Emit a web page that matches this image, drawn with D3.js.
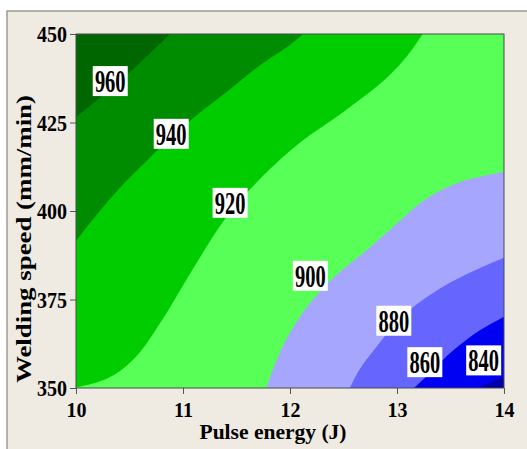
<!DOCTYPE html>
<html lang="en">
<head>
    <meta charset="UTF-8">
    <title>Contour plot: pulse energy vs welding speed</title>
    <script src="https://d3js.org/d3.v7.min.js"></script>
    <style>
        body { margin: 0; background: #ffffff; }
        text { font-family: "Liberation Serif", "Times New Roman", serif; font-weight: bold; }
    </style>
</head>
<body>
    <svg width="527" height="449" id="chart"></svg>
    <script>
        const width = 527;
        const height = 449;
        const svg = d3.select("#chart");

        // contour levels and band colours (lowest band first)
        const levels = [840, 860, 880, 900, 920, 940, 960];
        const bandColors = ["#0000a8", "#0000f2", "#6666ff", "#a6a6ff", "#57ff57", "#00cc00", "#008c00", "#006600"];

        // contour lines, [pulse energy J, welding speed mm/min]
        const c840 = [[13.74, 350], [13.87, 351.5], [14, 353.3]];
        const c860 = [[13.16, 350], [13.31, 354.3], [13.43, 358.0], [13.59, 362.2], [13.74, 365.6], [14, 370.1]];
        const c880 = [[12.56, 350], [12.65, 355.2], [12.81, 361.7], [12.96, 367.3], [13.12, 372.1], [13.43, 378.6], [13.74, 383.4], [14, 386.8]];
        const c900 = [[11.78, 350], [11.85, 356], [11.97, 364], [12.15, 372.5], [12.4, 381], [12.7, 388.5],
                      [13.0, 396.5], [13.25, 403], [13.55, 407.8], [14, 411.1]];
        const c920 = [[10, 350.1], [10.3, 352.8], [10.55, 358.5], [10.8, 369], [11.1, 384], [11.4, 398], [11.75, 410],
                      [12.1, 419.5], [12.5, 428], [12.9, 437.5], [13.1, 444], [13.24, 450]];
        const c940 = [[10, 391.5], [10.19, 398.8], [10.41, 406.5], [10.66, 414.1], [10.88, 420.6], [11.13, 427.1],
                      [11.41, 433.7], [11.72, 441.2], [12.0, 446.9], [12.12, 450]];
        const c960 = [[10, 426.5], [10.44, 437.5], [10.88, 450]];
        const contourLines = [c840, c860, c880, c900, c920, c940, c960];

        // where the level labels sit, in data units
        const labelPos = [[13.81, 357.8], [13.26, 357.3], [12.97, 369.0], [12.19, 381.7], [11.44, 402.3], [10.89, 421.8], [10.32, 436.7]];

        const xTicks = [10, 11, 12, 13, 14];
        const yTicks = [350, 375, 400, 425, 450];

        const x = d3.scaleLinear().domain([10, 14]).range([76, 504]);
        const y = d3.scaleLinear().domain([350, 450]).range([388, 34]);

        // outer frame of the figure
        svg.append("rect")
            .attr("x", 7).attr("y", 11)
            .attr("width", 540).attr("height", 460)
            .attr("fill", "#efebe3")
            .attr("stroke", "#9c9a96")
            .attr("stroke-width", 1.5);

        svg.append("defs").append("clipPath")
            .attr("id", "plot-clip")
            .append("rect")
            .attr("x", x(10)).attr("y", y(450))
            .attr("width", x(14) - x(10)).attr("height", y(350) - y(450));

        const plot = svg.append("g").attr("clip-path", "url(#plot-clip)");

        plot.append("rect")
            .attr("x", x(10)).attr("y", y(450))
            .attr("width", x(14) - x(10)).attr("height", y(350) - y(450))
            .attr("fill", bandColors[0]);

        // position of a boundary point along the plot edge, counter-clockwise from (10,350)
        function edgePos(p) {
            if (Math.abs(p[1] - 350) < 1e-6) return (p[0] - 10) / 4;
            if (Math.abs(p[0] - 14) < 1e-6) return 1 + (p[1] - 350) / 100;
            if (Math.abs(p[1] - 450) < 1e-6) return 2 + (14 - p[0]) / 4;
            return 3 + (450 - p[1]) / 100;
        }
        const corners = [[14, 350], [14, 450], [10, 450], [10, 350]];

        const line = d3.line()
            .x(d => x(d[0]))
            .y(d => y(d[1]))
            .curve(d3.curveCatmullRom.alpha(0.5));

        // region above each level = contour + plot corners on the upper-left side
        function regionPath(pts) {
            const s0 = edgePos(pts[pts.length - 1]);
            let s1 = edgePos(pts[0]);
            if (s1 < s0) s1 += 4;
            let d = line(pts);
            for (let k = 1; k <= 8; k++) {
                if (k > s0 && k < s1) {
                    const c = corners[(k - 1) % 4];
                    d += "L" + x(c[0]) + "," + y(c[1]);
                }
            }
            return d + "Z";
        }

        plot.selectAll("path.band")
            .data(contourLines)
            .enter().append("path")
            .attr("class", "band")
            .attr("d", d => regionPath(d))
            .attr("fill", (_, i) => bandColors[i + 1]);

        // plot border
        svg.append("rect")
            .attr("x", x(10)).attr("y", y(450))
            .attr("width", x(14) - x(10)).attr("height", y(350) - y(450))
            .attr("fill", "none")
            .attr("stroke", "#4a4a4a")
            .attr("stroke-width", 1);

        // level labels
        const labels = svg.selectAll("g.lab")
            .data(levels)
            .enter().append("g")
            .attr("class", "lab")
            .attr("transform", (_, i) => `translate(${x(labelPos[i][0])},${y(labelPos[i][1])})`);
        labels.append("rect")
            .attr("x", -17.5).attr("y", -15)
            .attr("width", 35).attr("height", 30)
            .attr("fill", "#ffffff");
        labels.append("text")
            .attr("text-anchor", "middle")
            .attr("transform", "scale(1,1.55)")
            .attr("y", 7)
            .attr("font-size", "20.5px")
            .attr("fill", "#000")
            .text(d => d);

        // axes
        const xAxis = svg.append("g")
            .attr("transform", `translate(0,${y(350)})`)
            .call(d3.axisBottom(x).tickValues(xTicks).tickSize(6).tickFormat(d3.format("d")));
        const yAxis = svg.append("g")
            .attr("transform", `translate(${x(10)},0)`)
            .call(d3.axisLeft(y).tickValues(yTicks).tickSize(6).tickFormat(d3.format("d")));

        [xAxis, yAxis].forEach(g => {
            g.select(".domain").remove();
            g.selectAll(".tick line").attr("stroke", "#555");
            g.selectAll(".tick text")
                .attr("font-size", "20px")
                .attr("font-family", "Liberation Serif")
                .attr("font-weight", "bold")
                .attr("fill", "#000")
                .attr("y", null).attr("x", null).attr("dy", null);
        });
        xAxis.selectAll(".tick text")
            .attr("text-anchor", "middle")
            .attr("transform", "translate(0,28.5) scale(1,1.1)");
        yAxis.selectAll(".tick text")
            .attr("text-anchor", "end")
            .attr("transform", "translate(-9,7.5) scale(1,1.15)");

        // axis titles
        svg.append("text")
            .attr("x", 273)
            .attr("y", 438.5)
            .attr("text-anchor", "middle")
            .attr("font-size", "22px")
            .attr("textLength", 147)
            .attr("lengthAdjust", "spacingAndGlyphs")
            .text("Pulse energy (J)");

        svg.append("text")
            .attr("transform", "translate(31,239) rotate(-90)")
            .attr("text-anchor", "middle")
            .attr("font-size", "22px")
            .attr("textLength", 288)
            .attr("lengthAdjust", "spacingAndGlyphs")
            .text("Welding speed (mm/min)");
    </script>
</body>
</html>
